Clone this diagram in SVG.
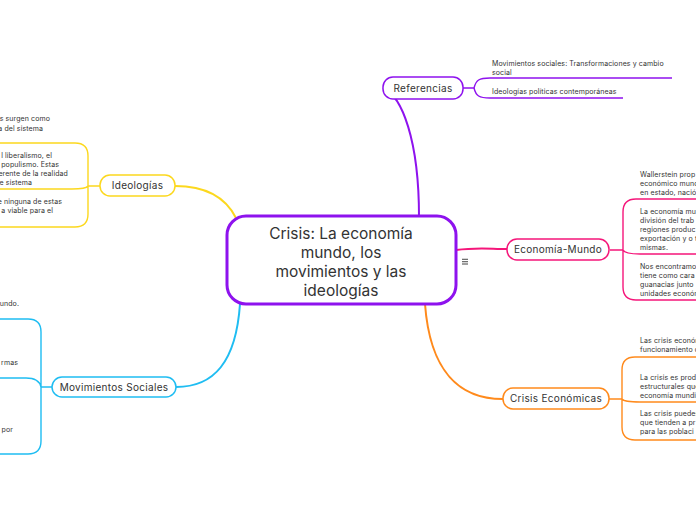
<svg xmlns="http://www.w3.org/2000/svg" width="696" height="520" viewBox="0 0 696 520">
<style>
.node{fill:#fff;stroke-width:1.5}
.center{fill:#fff;stroke:#8e12ee;stroke-width:3}
.lbl{font-family:Inter,"Noto Sans","DejaVu Sans",sans-serif;font-size:10px;fill:#333;text-anchor:middle;letter-spacing:0.3px}
.ctr{font-family:Inter,"Noto Sans","DejaVu Sans",sans-serif;font-size:15.5px;fill:#333;text-anchor:middle}
.sm{font-family:Inter,"Noto Sans","DejaVu Sans",sans-serif;font-size:7px;fill:#333;letter-spacing:0.1px}
.end{text-anchor:end}
.c{fill:none;stroke-width:2}
.b{fill:none;stroke-width:1.4}
.pu{stroke:#8e12ee}.pk{stroke:#f5167a}.or{stroke:#ff8a1c}.ye{stroke:#fcd81e}.bl{stroke:#1fbdf2}
</style>
<rect width="696" height="520" fill="#ffffff"/>
<g id="connectors">
<path class="c pu" d="M383,88 C402,96 419,140 419,217"/>
<path class="c pk" d="M456,250 C478,247 490,249 507,249"/>
<path class="c or" d="M425,304 C430,372 460,399 503,399"/>
<path class="c ye" d="M236,218 C225,196 205,186 175,186"/>
<path class="c bl" d="M240,304 C236,362 214,387 176,387"/>
<!-- Referencias bracket -->
<path class="b pu" d="M463,88 H474 C476,80 479,78 490,78 H672"/>
<path class="b pu" d="M474,88 C476,96 479,98 490,98 H623"/>
<!-- Economia bracket -->
<path class="b pk" d="M610,250 H623 M696,199 H636 Q623,199 623,212 V287 Q623,300 636,300 H696 M623,250 Q625,254 640,254 H696"/>
<!-- Crisis bracket -->
<path class="b or" d="M609,399 H622 M696,357 H635 Q622,357 622,370 V427 Q622,440 635,440 H696 M622,399 Q624,402 640,402 H696"/>
<!-- Ideologias bracket -->
<path class="b ye" d="M100,186 H88 M0,143 H75 Q88,143 88,156 V214 Q88,227 75,227 H0 M88,186 Q86,189 72,189 H0"/>
<!-- Movimientos bracket -->
<path class="b bl" d="M52,387 H41 M0,319 H28 Q41,319 41,332 V441 Q41,454 28,454 H0 M41,387 Q39,378 26,378 H0"/>
</g>
<g id="center">
<rect class="center" x="227" y="216" width="229" height="88" rx="19"/>
<text class="ctr" x="341" y="238.5">Crisis: La economía</text>
<text class="ctr" x="341" y="257.5">mundo, los</text>
<text class="ctr" x="341" y="276.5">movimientos y las</text>
<text class="ctr" x="341" y="295.5">ideologías</text>
<g stroke="#555" stroke-width="1.1"><line x1="462" y1="259.3" x2="468" y2="259.3"/><line x1="462" y1="261.7" x2="468" y2="261.7"/><line x1="462" y1="264" x2="468" y2="264"/></g>
</g>
<g id="referencias">
<rect class="node pu" x="383" y="77" width="80" height="22" rx="10"/>
<text class="lbl" x="423" y="91.5">Referencias</text>
<text class="sm" x="492" y="65.5">Movimientos sociales: Transformaciones y cambio</text>
<text class="sm" x="492" y="74.5">social</text>
<text class="sm" x="492" y="93.5">Ideologías políticas contemporáneas</text>
</g>
<g id="economia-mundo">
<rect class="node pk" x="507" y="239" width="102" height="21" rx="10"/>
<text class="lbl" x="558" y="253">Economía-Mundo</text>
<text class="sm" x="640" y="177">Wallerstein prop</text>
<text class="sm" x="640" y="186">económico mund</text>
<text class="sm" x="640" y="195">en estado, nació</text>
<text class="sm" x="640" y="214">La economía mu</text>
<text class="sm" x="640" y="223">división del trab</text>
<text class="sm" x="640" y="232">regiones produc</text>
<text class="sm" x="640" y="241">exportación y o t</text>
<text class="sm" x="640" y="250">mismas.</text>
<text class="sm" x="640" y="269">Nos encontramo</text>
<text class="sm" x="640" y="278">tiene como cara</text>
<text class="sm" x="640" y="287">guanacias junto</text>
<text class="sm" x="640" y="296">unidades económ</text>
</g>
<g id="crisis-economicas">
<rect class="node or" x="503" y="388" width="106" height="21" rx="10"/>
<text class="lbl" x="556" y="402">Crisis Económicas</text>
<text class="sm" x="640" y="343">Las crisis económ</text>
<text class="sm" x="640" y="352">funcionamiento d</text>
<text class="sm" x="640" y="380">La crisis es prod</text>
<text class="sm" x="640" y="389">estructurales que</text>
<text class="sm" x="640" y="398">economía mundi</text>
<text class="sm" x="640" y="416">Las crisis puedes</text>
<text class="sm" x="640" y="425">que tienden a pr</text>
<text class="sm" x="640" y="434">para las poblaci</text>
</g>
<g id="ideologias">
<rect class="node ye" x="100" y="175" width="75" height="21" rx="10"/>
<text class="lbl" x="137.5" y="189">Ideologías</text>
<text class="sm end" x="50" y="120.5">s surgen como</text>
<text class="sm end" x="43" y="130.5">a del sistema</text>
<text class="sm end" x="52" y="157.5">l liberalismo, el</text>
<text class="sm end" x="59" y="166.5">populismo. Estas</text>
<text class="sm end" x="68" y="175.5">erente de la realidad</text>
<text class="sm end" x="32" y="184.5">e sistema</text>
<text class="sm end" x="62" y="203.5">e ninguna de estas</text>
<text class="sm end" x="53" y="212.5">a viable para el</text>
</g>
<g id="movimientos-sociales">
<rect class="node bl" x="52" y="377" width="124" height="20" rx="10"/>
<text class="lbl" x="114" y="390.5">Movimientos Sociales</text>
<text class="sm end" x="19" y="305.5">undo.</text>
<text class="sm end" x="18" y="364.5">rmas</text>
<text class="sm end" x="13" y="431.5">por</text>
</g>
</svg>
